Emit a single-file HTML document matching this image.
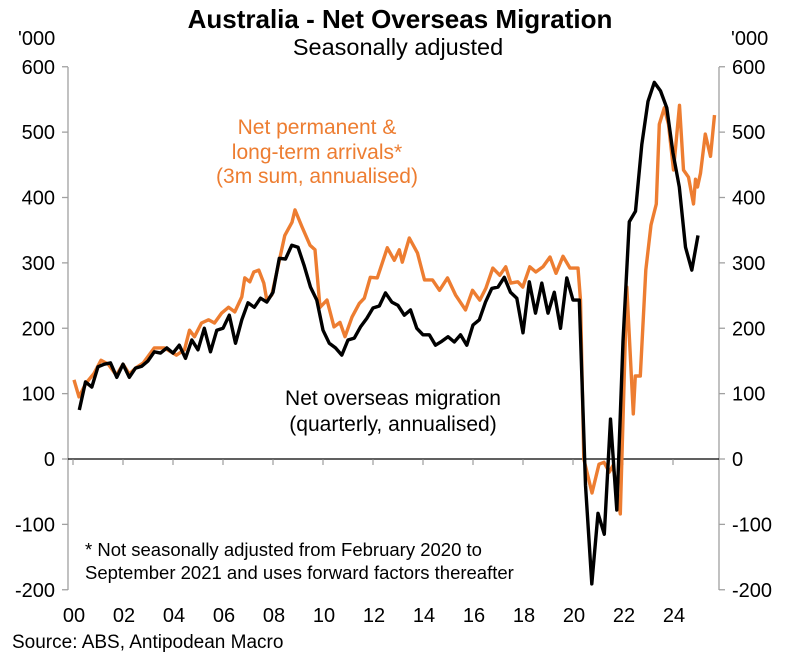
<!DOCTYPE html>
<html><head><meta charset="utf-8">
<style>
body{margin:0;background:#fff;}
svg{display:block;font-family:"Liberation Sans",Arial,sans-serif;}
</style></head>
<body>
<svg id="chart" width="794" height="657" viewBox="0 0 794 657">
<text x="400" y="28" text-anchor="middle" font-size="26" font-weight="bold">Australia - Net Overseas Migration</text>
<text x="398" y="55" text-anchor="middle" font-size="23.5">Seasonally adjusted</text>
<text x="18" y="45" font-size="20">'000</text>
<text x="731" y="45" font-size="20">'000</text>
<g id="axes"></g>
<g id="series"></g>
<text fill="#ED7D31" font-size="21" text-anchor="middle">
<tspan x="317" y="134">Net permanent &amp;</tspan><tspan x="317" y="159">long-term arrivals*</tspan><tspan x="317" y="183">(3m sum, annualised)</tspan></text>
<text fill="#000" font-size="21" text-anchor="middle">
<tspan x="393" y="405">Net overseas migration</tspan><tspan x="393" y="431">(quarterly, annualised)</tspan></text>
<text font-size="18.5"><tspan x="85" y="556">* Not seasonally adjusted from February 2020 to</tspan><tspan x="85" y="579">September 2021 and uses forward factors thereafter</tspan></text>
<text x="12" y="648" font-size="19">Source: ABS, Antipodean Macro</text>
</svg>
<script>
const yTicks=[600,500,400,300,200,100,0,-100,-200];
const xTickYears=[0,2,4,6,8,10,12,14,16,18,20,22,24];
const xTickLabels=["00","02","04","06","08","10","12","14","16","18","20","22","24"];
const nomStart=0.25;
const nomValues=[75,118,110,141,145,147,125,145,125,139,142,150,164,162,170,162,174,154,182,167,200,164,197,200,220,177,213,239,232,246,240,255,307,306,327,324,295,263,243,197,177,170,159,182,185,202,215,231,234,254,240,235,220,228,200,190,190,174,180,187,179,190,174,205,213,240,261,263,278,255,246,193,271,223,269,223,255,200,277,243,243,-40,-191,-83,-115,61,-78,180,363,379,481,547,576,563,537,468,416,324,289,342];
const arrYears=[0.04,0.24,0.52,0.84,1.12,1.41,1.73,2.0,2.25,2.53,2.81,3.25,3.65,4.14,4.46,4.66,4.86,5.14,5.42,5.66,5.94,6.22,6.47,6.75,6.87,7.07,7.23,7.43,7.63,7.75,7.95,8.23,8.47,8.76,8.88,9.16,9.48,9.68,9.88,10.16,10.44,10.68,10.88,11.16,11.45,11.65,11.89,12.17,12.57,12.85,13.05,13.17,13.45,13.78,14.06,14.38,14.66,14.98,15.3,15.7,15.98,16.27,16.51,16.79,17.07,17.31,17.51,17.79,17.99,18.27,18.51,18.8,19.08,19.32,19.6,19.88,20.2,20.3,20.43,20.76,21.04,21.24,21.45,21.6,21.89,22.15,22.41,22.49,22.69,22.91,23.12,23.33,23.45,23.65,23.82,24.02,24.26,24.42,24.62,24.82,24.9,24.98,25.1,25.29,25.5,25.66];
const arrValues=[121,95,116,131,151,145,128,145,130,140,147,170,170,159,167,197,187,208,213,208,223,232,225,248,277,271,286,289,269,243,251,300,342,362,381,355,327,320,232,243,202,209,187,217,238,246,278,277,323,304,320,301,338,315,274,274,258,277,251,228,258,243,261,292,281,294,269,271,263,294,286,294,309,284,310,292,292,243,0,-52,-8,-5,-20,-10,-84,263,69,127,127,289,358,390,512,537,512,442,541,442,431,390,428,416,437,497,463,526];

const NS='http://www.w3.org/2000/svg';
const X0=68,X1=719,Y0=67,Y1=590;
function xs(yr){return 73+yr*25;}
function ys(v){return 459-(v)*0.65375;}
function mk(tag,attrs,parent){const e=document.createElementNS(NS,tag);for(const k in attrs)e.setAttribute(k,attrs[k]);parent.appendChild(e);return e;}
const ax=document.getElementById('axes');
let e;
e=mk('line',{x1:X0,y1:Y0,x2:X0,y2:Y1,stroke:'#a0a0a0','stroke-width':1.3},ax);


e=mk('line',{x1:X1,y1:Y0,x2:X1,y2:Y1,stroke:'#a0a0a0','stroke-width':1.3},ax);


yTicks.forEach(v=>{
  const y=ys(v);
  mk('line',{x1:X0-6,y1:y,x2:X0,y2:y,stroke:'#a0a0a0','stroke-width':1.3},ax);
  mk('line',{x1:X1,y1:y,x2:X1+6,y2:y,stroke:'#a0a0a0','stroke-width':1.3},ax);
  let t=mk('text',{x:55,y:y+7,'text-anchor':'end','font-size':20},ax);
  t.textContent=v;
  
  
  t=mk('text',{x:732,y:y+7,'font-size':20},ax);
  t.textContent=v;
  
  
});
e=mk('line',{x1:X0,y1:ys(0),x2:X1,y2:ys(0),stroke:'#000','stroke-width':1.2},ax);


xTickYears.forEach((yr,i)=>{
  const x=xs(yr);
  mk('line',{x1:x,y1:ys(0),x2:x,y2:ys(0)+6,stroke:'#888','stroke-width':1},ax);
  const t=mk('text',{x:x+1,y:622,'text-anchor':'middle','font-size':20},ax);
  t.textContent=xTickLabels[i];
  
  
});
const sg=document.getElementById('series');
const arrPts=arrYears.map((yr,i)=>xs(yr).toFixed(1)+','+ys(arrValues[i]).toFixed(1)).join(' ');
e=mk('polyline',{points:arrPts,fill:'none',stroke:'#ED7D31','stroke-width':3.4,'stroke-linejoin':'round'},sg);


const nomPts=nomValues.map((v,i)=>xs(nomStart+i*0.25).toFixed(1)+','+ys(v).toFixed(1)).join(' ');
e=mk('polyline',{points:nomPts,fill:'none',stroke:'#000','stroke-width':3.4,'stroke-linejoin':'round'},sg);


</script>
</body></html>
